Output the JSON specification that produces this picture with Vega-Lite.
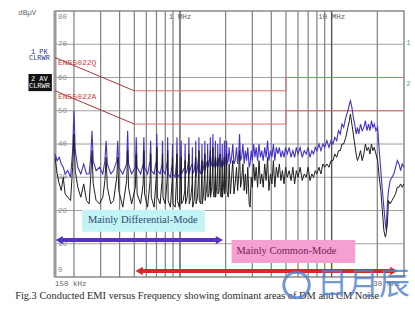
{
  "$schema": "https://vega.github.io/schema/vega-lite/v6.json",
  "width": 349,
  "height": 266,
  "autosize": "none",
  "padding": {"left": 55, "top": 11, "right": 11, "bottom": 32},
  "background": "white",
  "config": {"view": {"stroke": "#8a8a8a", "strokeWidth": 1.5}},
  "datasets": {
    "grid": [{"f":0.2},{"f":0.3},{"f":0.4},{"f":0.5},{"f":0.6},{"f":0.7},{"f":0.8},{"f":0.9},{"f":2},{"f":3},{"f":4},{"f":5},{"f":6},{"f":7},{"f":8},{"f":9},{"f":20}],
    "hgrid": [{"db":10,"t":"10"},{"db":20,"t":"20"},{"db":30,"t":"30"},{"db":40,"t":"40"},{"db":50,"t":"50"},{"db":60,"t":"60"},{"db":70,"t":"70"}],
    "lim": [
      {"lim":"Q","kind":"diag","i":1,"f":0.15,"db":66},{"lim":"Q","kind":"diag","i":2,"f":0.5,"db":56},
      {"lim":"Q","kind":"flat","i":1,"f":0.5,"db":56},{"lim":"Q","kind":"flat","i":2,"f":5,"db":56},{"lim":"Q","kind":"flat","i":3,"f":5,"db":60},{"lim":"Q","kind":"flat","i":4,"f":30,"db":60},
      {"lim":"A","kind":"diag","i":1,"f":0.15,"db":56},{"lim":"A","kind":"diag","i":2,"f":0.5,"db":46},
      {"lim":"A","kind":"flat","i":1,"f":0.5,"db":46},{"lim":"A","kind":"flat","i":2,"f":5,"db":46},{"lim":"A","kind":"flat","i":3,"f":5,"db":50},{"lim":"A","kind":"flat","i":4,"f":30,"db":50}
    ],
    "tr": [
      {"f":0.150,"pk":37,"av":36},{"f":0.155,"pk":35,"av":31},{"f":0.160,"pk":36,"av":28},{"f":0.165,"pk":34,"av":26},{"f":0.170,"pk":33,"av":30},{"f":0.175,"pk":31,"av":25},{"f":0.182,"pk":32,"av":24},{"f":0.190,"pk":30,"av":23},{"f":0.196,"pk":38,"av":33},{"f":0.200,"pk":50,"av":43},{"f":0.204,"pk":38,"av":32},{"f":0.212,"pk":33,"av":27},{"f":0.222,"pk":31,"av":24},{"f":0.232,"pk":34,"av":28},{"f":0.242,"pk":31,"av":23},{"f":0.252,"pk":31,"av":22},{"f":0.258,"pk":36,"av":30},{"f":0.263,"pk":44,"av":38},{"f":0.268,"pk":35,"av":28},{"f":0.280,"pk":32,"av":23},{"f":0.295,"pk":33,"av":22},{"f":0.310,"pk":31,"av":24},{"f":0.320,"pk":35,"av":29},{"f":0.326,"pk":41,"av":36},{"f":0.332,"pk":34,"av":27},{"f":0.350,"pk":31,"av":22},{"f":0.365,"pk":32,"av":23},{"f":0.383,"pk":35,"av":30},{"f":0.389,"pk":41,"av":36},{"f":0.395,"pk":33,"av":26},{"f":0.420,"pk":31,"av":21},{"f":0.445,"pk":34,"av":29},{"f":0.452,"pk":44,"av":38},{"f":0.458,"pk":34,"av":27},{"f":0.480,"pk":31,"av":22},{"f":0.508,"pk":33,"av":27},{"f":0.515,"pk":42,"av":37},{"f":0.522,"pk":33,"av":25},{"f":0.550,"pk":31,"av":22},{"f":0.572,"pk":34,"av":28},{"f":0.578,"pk":42,"av":38},{"f":0.584,"pk":33,"av":25},{"f":0.612,"pk":31,"av":21},{"f":0.635,"pk":35,"av":29},{"f":0.641,"pk":41,"av":37},{"f":0.647,"pk":32,"av":24},{"f":0.675,"pk":31,"av":21},{"f":0.698,"pk":35,"av":30},{"f":0.704,"pk":43,"av":39},{"f":0.710,"pk":32,"av":24},{"f":0.740,"pk":31,"av":22},{"f":0.762,"pk":34,"av":29},{"f":0.767,"pk":41,"av":37},{"f":0.773,"pk":32,"av":24},{"f":0.800,"pk":31,"av":22},{"f":0.825,"pk":35,"av":30},{"f":0.830,"pk":42,"av":38},{"f":0.836,"pk":31,"av":23},{"f":0.865,"pk":30,"av":21},{"f":0.888,"pk":34,"av":29},{"f":0.893,"pk":40,"av":36},{"f":0.899,"pk":31,"av":22},{"f":0.930,"pk":30,"av":21},{"f":0.950,"pk":35,"av":30},{"f":0.956,"pk":42,"av":37},{"f":0.962,"pk":31,"av":23},{"f":0.990,"pk":30,"av":21},
      {"f":1.019,"pk":41,"av":36},{"f":1.025,"pk":31,"av":22},{"f":1.05,"pk":32,"av":23},{"f":1.076,"pk":33,"av":26},{"f":1.082,"pk":40,"av":35},{"f":1.088,"pk":31,"av":22},{"f":1.115,"pk":32,"av":24},{"f":1.139,"pk":35,"av":29},{"f":1.145,"pk":42,"av":37},{"f":1.151,"pk":31,"av":22},{"f":1.18,"pk":33,"av":24},{"f":1.202,"pk":34,"av":28},{"f":1.208,"pk":39,"av":34},{"f":1.214,"pk":31,"av":21},{"f":1.24,"pk":32,"av":23},{"f":1.265,"pk":35,"av":30},{"f":1.271,"pk":41,"av":36},{"f":1.277,"pk":30,"av":22},{"f":1.305,"pk":33,"av":24},{"f":1.328,"pk":36,"av":31},{"f":1.334,"pk":42,"av":38},{"f":1.34,"pk":32,"av":23},{"f":1.37,"pk":31,"av":22},{"f":1.391,"pk":35,"av":30},{"f":1.397,"pk":40,"av":35},{"f":1.403,"pk":31,"av":22},{"f":1.43,"pk":33,"av":25},{"f":1.454,"pk":36,"av":31},{"f":1.46,"pk":41,"av":37},{"f":1.466,"pk":32,"av":23},{"f":1.495,"pk":34,"av":26},{"f":1.517,"pk":35,"av":30},{"f":1.523,"pk":40,"av":35},{"f":1.529,"pk":33,"av":24},{"f":1.555,"pk":34,"av":25},{"f":1.58,"pk":37,"av":32},{"f":1.586,"pk":42,"av":38},{"f":1.592,"pk":33,"av":24},{"f":1.62,"pk":34,"av":27},{"f":1.643,"pk":37,"av":33},{"f":1.649,"pk":43,"av":39},{"f":1.655,"pk":34,"av":26},{"f":1.68,"pk":33,"av":24},{"f":1.706,"pk":36,"av":31},{"f":1.712,"pk":41,"av":36},{"f":1.718,"pk":33,"av":24},{"f":1.745,"pk":34,"av":27},{"f":1.769,"pk":36,"av":32},{"f":1.775,"pk":40,"av":36},{"f":1.781,"pk":33,"av":25},{"f":1.81,"pk":35,"av":26},{"f":1.832,"pk":37,"av":33},{"f":1.838,"pk":42,"av":37},{"f":1.844,"pk":34,"av":25},{"f":1.87,"pk":33,"av":24},{"f":1.895,"pk":36,"av":31},{"f":1.90,"pk":40,"av":35},{"f":1.906,"pk":33,"av":24},{"f":1.935,"pk":34,"av":27},{"f":1.958,"pk":37,"av":32},{"f":1.963,"pk":41,"av":36},{"f":1.97,"pk":33,"av":25},{"f":2.0,"pk":35,"av":28},{"f":2.026,"pk":38,"av":33},{"f":2.032,"pk":41,"av":37},{"f":2.04,"pk":34,"av":26},{"f":2.08,"pk":35,"av":24},{"f":2.11,"pk":39,"av":34},{"f":2.15,"pk":34,"av":25},{"f":2.19,"pk":36,"av":30},{"f":2.23,"pk":40,"av":35},{"f":2.27,"pk":34,"av":25},{"f":2.31,"pk":35,"av":28},{"f":2.36,"pk":39,"av":33},{"f":2.40,"pk":34,"av":26},{"f":2.44,"pk":37,"av":31},{"f":2.47,"pk":43,"av":38},{"f":2.51,"pk":35,"av":27},{"f":2.55,"pk":36,"av":29},{"f":2.60,"pk":40,"av":34},{"f":2.65,"pk":34,"av":26},{"f":2.70,"pk":38,"av":31},{"f":2.75,"pk":35,"av":25},{"f":2.80,"pk":39,"av":33},{"f":2.86,"pk":33,"av":22},{"f":2.90,"pk":34,"av":21},{"f":2.95,"pk":38,"av":30},
      {"f":3.00,"pk":35,"av":27},{"f":3.06,"pk":40,"av":34},{"f":3.12,"pk":36,"av":29},{"f":3.18,"pk":39,"av":33},{"f":3.25,"pk":35,"av":27},{"f":3.32,"pk":40,"av":35},{"f":3.39,"pk":36,"av":28},{"f":3.46,"pk":38,"av":31},{"f":3.54,"pk":35,"av":27},{"f":3.62,"pk":39,"av":34},{"f":3.70,"pk":36,"av":29},{"f":3.78,"pk":41,"av":36},{"f":3.86,"pk":35,"av":26},{"f":3.95,"pk":38,"av":31},{"f":4.04,"pk":36,"av":28},{"f":4.13,"pk":40,"av":35},{"f":4.22,"pk":35,"av":27},{"f":4.32,"pk":39,"av":33},{"f":4.42,"pk":37,"av":30},{"f":4.52,"pk":39,"av":34},{"f":4.63,"pk":36,"av":29},{"f":4.74,"pk":38,"av":32},{"f":4.85,"pk":36,"av":28},{"f":4.97,"pk":39,"av":33},{"f":5.1,"pk":37,"av":30},{"f":5.25,"pk":39,"av":32},{"f":5.4,"pk":36,"av":29},{"f":5.55,"pk":38,"av":33},{"f":5.7,"pk":36,"av":28},{"f":5.85,"pk":39,"av":32},{"f":6.0,"pk":37,"av":30},{"f":6.2,"pk":39,"av":33},{"f":6.4,"pk":36,"av":29},{"f":6.6,"pk":38,"av":31},{"f":6.8,"pk":37,"av":30},{"f":7.0,"pk":39,"av":33},{"f":7.2,"pk":36,"av":29},{"f":7.4,"pk":38,"av":31},{"f":7.6,"pk":37,"av":30},{"f":7.8,"pk":39,"av":32},{"f":8.0,"pk":38,"av":31},{"f":8.25,"pk":40,"av":33},{"f":8.5,"pk":38,"av":31},{"f":8.75,"pk":40,"av":34},{"f":9.0,"pk":39,"av":33},{"f":9.3,"pk":41,"av":34},{"f":9.6,"pk":39,"av":33},{"f":9.9,"pk":41,"av":35},{"f":10.2,"pk":40,"av":35},{"f":10.5,"pk":42,"av":37},{"f":10.8,"pk":41,"av":36},{"f":11.1,"pk":44,"av":38},{"f":11.4,"pk":43,"av":38},{"f":11.7,"pk":46,"av":40},{"f":12.0,"pk":45,"av":40},{"f":12.4,"pk":48,"av":42},{"f":12.8,"pk":50,"av":45},{"f":13.1,"pk":52,"av":47},{"f":13.3,"pk":53,"av":49},{"f":13.6,"pk":51,"av":46},{"f":13.9,"pk":48,"av":43},{"f":14.2,"pk":46,"av":40},{"f":14.5,"pk":43,"av":37},{"f":14.8,"pk":45,"av":35},{"f":15.1,"pk":43,"av":36},{"f":15.5,"pk":46,"av":38},{"f":15.9,"pk":44,"av":35},{"f":16.3,"pk":45,"av":37},{"f":16.7,"pk":47,"av":40},{"f":17.1,"pk":44,"av":38},{"f":17.5,"pk":46,"av":39},{"f":17.9,"pk":44,"av":37},{"f":18.3,"pk":47,"av":40},{"f":18.7,"pk":45,"av":38},{"f":19.1,"pk":46,"av":39},{"f":19.6,"pk":44,"av":37},{"f":20.1,"pk":45,"av":35},{"f":20.6,"pk":38,"av":30},{"f":21.1,"pk":32,"av":26},{"f":21.6,"pk":26,"av":20},{"f":22.1,"pk":21,"av":14},{"f":22.6,"pk":16,"av":12},{"f":22.9,"pk":14,"av":13},{"f":23.3,"pk":22,"av":16},{"f":23.7,"pk":26,"av":23},{"f":24.3,"pk":29,"av":22},{"f":25.0,"pk":30,"av":23},{"f":25.7,"pk":31,"av":24},{"f":26.4,"pk":33,"av":25},{"f":27.1,"pk":35,"av":27},{"f":27.8,"pk":34,"av":27},{"f":28.5,"pk":32,"av":28},{"f":29.2,"pk":34,"av":27},{"f":30.0,"pk":33,"av":28}
    ]
  },
  "layer": [
    {
      "data": {"name": "hgrid"},
      "mark": {"type": "rule", "color": "#a0a0a0", "strokeWidth": 1},
      "encoding": {
        "y": {"field": "db", "type": "quantitative", "scale": {"domain": [0, 80], "nice": false}, "axis": null}
      }
    },
    {
      "data": {"name": "grid"},
      "mark": {"type": "rule", "color": "#7f7f7f", "strokeWidth": 1.2},
      "encoding": {
        "x": {"field": "f", "type": "quantitative", "scale": {"type": "log", "domain": [0.15, 30]}, "axis": null}
      }
    },
    {
      "data": {"values": [{"f": 1}, {"f": 10}]},
      "mark": {"type": "rule", "color": "#555555", "strokeWidth": 1.4},
      "encoding": {
        "x": {"field": "f", "type": "quantitative", "scale": {"type": "log", "domain": [0.15, 30]}, "axis": null}
      }
    },
    {
      "data": {"values": [{"f": 0.15}]},
      "mark": {"type": "rule", "color": "#9a9a9a", "strokeWidth": 3},
      "encoding": {
        "x": {"field": "f", "type": "quantitative", "scale": {"type": "log", "domain": [0.15, 30]}, "axis": null}
      }
    },
    {
      "data": {"name": "hgrid"},
      "mark": {"type": "text", "font": "Liberation Mono", "fontSize": 7.5, "color": "#8a8a8a", "align": "left", "baseline": "middle", "dx": 3},
      "encoding": {
        "x": {"datum": 0.15, "type": "quantitative", "scale": {"type": "log", "domain": [0.15, 30]}, "axis": null},
        "y": {"field": "db", "type": "quantitative", "scale": {"domain": [0, 80], "nice": false}, "axis": null},
        "text": {"field": "t"}
      }
    },
    {
      "data": {"values": [{"f": 0.15, "db": 80, "t": "80"}]},
      "mark": {"type": "text", "font": "Liberation Mono", "fontSize": 7.5, "color": "#8a8a8a", "align": "left", "baseline": "top", "dx": 3, "dy": 2},
      "encoding": {
        "x": {"field": "f", "type": "quantitative", "scale": {"type": "log", "domain": [0.15, 30]}, "axis": null},
        "y": {"field": "db", "type": "quantitative", "scale": {"domain": [0, 80], "nice": false}, "axis": null},
        "text": {"field": "t"}
      }
    },
    {
      "data": {"values": [{"f": 0.15, "db": 0, "t": "0"}]},
      "mark": {"type": "text", "font": "Liberation Mono", "fontSize": 7.5, "color": "#8a8a8a", "align": "left", "baseline": "bottom", "dx": 3, "dy": -3},
      "encoding": {
        "x": {"field": "f", "type": "quantitative", "scale": {"type": "log", "domain": [0.15, 30]}, "axis": null},
        "y": {"field": "db", "type": "quantitative", "scale": {"domain": [0, 80], "nice": false}, "axis": null},
        "text": {"field": "t"}
      }
    },
    {
      "data": {"name": "lim"},
      "transform": [{"filter": "datum.kind === 'flat'"}],
      "mark": {"type": "line", "color": "#e06a6a", "strokeWidth": 1},
      "encoding": {
        "x": {"field": "f", "type": "quantitative", "scale": {"type": "log", "domain": [0.15, 30]}, "axis": null},
        "y": {"field": "db", "type": "quantitative", "scale": {"domain": [0, 80], "nice": false}, "axis": null},
        "detail": {"field": "lim"},
        "order": {"field": "i"}
      }
    },
    {
      "data": {"name": "lim"},
      "transform": [{"filter": "datum.kind === 'diag'"}],
      "mark": {"type": "line", "color": "#a83636", "strokeWidth": 1},
      "encoding": {
        "x": {"field": "f", "type": "quantitative", "scale": {"type": "log", "domain": [0.15, 30]}, "axis": null},
        "y": {"field": "db", "type": "quantitative", "scale": {"domain": [0, 80], "nice": false}, "axis": null},
        "detail": {"field": "lim"},
        "order": {"field": "i"}
      }
    },
    {
      "data": {"name": "tr"},
      "mark": {"type": "line", "color": "#4332c8", "strokeWidth": 1.1},
      "encoding": {
        "x": {"field": "f", "type": "quantitative", "scale": {"type": "log", "domain": [0.15, 30]}, "axis": null},
        "y": {"field": "pk", "type": "quantitative", "scale": {"domain": [0, 80], "nice": false}, "axis": null}
      }
    },
    {
      "data": {"name": "tr"},
      "mark": {"type": "line", "color": "#1e1e1e", "strokeWidth": 1},
      "encoding": {
        "x": {"field": "f", "type": "quantitative", "scale": {"type": "log", "domain": [0.15, 30]}, "axis": null},
        "y": {"field": "av", "type": "quantitative", "scale": {"domain": [0, 80], "nice": false}, "axis": null}
      }
    },
    {
      "data": {"values": [{"f1": 0.226, "f2": 1.46, "d1": 13.6, "d2": 20.2}]},
      "mark": {"type": "rect", "color": "#c2f3f5"},
      "encoding": {
        "x": {"field": "f1", "type": "quantitative", "scale": {"type": "log", "domain": [0.15, 30]}, "axis": null},
        "x2": {"field": "f2"},
        "y": {"field": "d1", "type": "quantitative", "scale": {"domain": [0, 80], "nice": false}, "axis": null},
        "y2": {"field": "d2"}
      }
    },
    {
      "data": {"values": [{"f1": 2.19, "f2": 14.3, "d1": 4.2, "d2": 11.1}]},
      "mark": {"type": "rect", "color": "#f59fd3"},
      "encoding": {
        "x": {"field": "f1", "type": "quantitative", "scale": {"type": "log", "domain": [0.15, 30]}, "axis": null},
        "x2": {"field": "f2"},
        "y": {"field": "d1", "type": "quantitative", "scale": {"domain": [0, 80], "nice": false}, "axis": null},
        "y2": {"field": "d2"}
      }
    },
    {
      "data": {"values": [{"f1": 0.1615, "f2": 1.80, "db": 11.1}]},
      "mark": {"type": "rule", "color": "#5535c0", "strokeWidth": 4},
      "encoding": {
        "x": {"field": "f1", "type": "quantitative", "scale": {"type": "log", "domain": [0.15, 30]}, "axis": null},
        "x2": {"field": "f2"},
        "y": {"field": "db", "type": "quantitative", "scale": {"domain": [0, 80], "nice": false}, "axis": null}
      }
    },
    {
      "data": {"values": [{"f": 0.1600, "db": 11.1, "end": "L"}, {"f": 1.82, "db": 11.1, "end": "R"}]},
      "mark": {"type": "point", "filled": true, "opacity": 1, "color": "#5535c0", "size": 70},
      "encoding": {
        "x": {"field": "f", "type": "quantitative", "scale": {"type": "log", "domain": [0.15, 30]}, "axis": null},
        "y": {"field": "db", "type": "quantitative", "scale": {"domain": [0, 80], "nice": false}, "axis": null},
        "shape": {"field": "end", "type": "nominal", "scale": {"domain": ["L", "R"], "range": ["triangle-left", "triangle-right"]}, "legend": null}
      }
    },
    {
      "data": {"values": [{"f1": 0.543, "f2": 25.4, "db": 1.8}]},
      "mark": {"type": "rule", "color": "#d8282c", "strokeWidth": 4},
      "encoding": {
        "x": {"field": "f1", "type": "quantitative", "scale": {"type": "log", "domain": [0.15, 30]}, "axis": null},
        "x2": {"field": "f2"},
        "y": {"field": "db", "type": "quantitative", "scale": {"domain": [0, 80], "nice": false}, "axis": null}
      }
    },
    {
      "data": {"values": [{"f": 0.538, "db": 1.8, "end": "L"}, {"f": 25.7, "db": 1.8, "end": "R"}]},
      "mark": {"type": "point", "filled": true, "opacity": 1, "color": "#d8282c", "size": 70},
      "encoding": {
        "x": {"field": "f", "type": "quantitative", "scale": {"type": "log", "domain": [0.15, 30]}, "axis": null},
        "y": {"field": "db", "type": "quantitative", "scale": {"domain": [0, 80], "nice": false}, "axis": null},
        "shape": {"field": "end", "type": "nominal", "scale": {"domain": ["L", "R"], "range": ["triangle-left", "triangle-right"]}, "legend": null}
      }
    },
    {
      "data": {"values": [{"f": 0.569, "db": 17.1, "t": "Mainly Differential-Mode"}]},
      "mark": {"type": "text", "font": "Liberation Serif", "fontSize": 10.5, "color": "#2c4d70", "align": "center", "baseline": "middle"},
      "encoding": {
        "x": {"field": "f", "type": "quantitative", "scale": {"type": "log", "domain": [0.15, 30]}, "axis": null},
        "y": {"field": "db", "type": "quantitative", "scale": {"domain": [0, 80], "nice": false}, "axis": null},
        "text": {"field": "t"}
      }
    },
    {
      "data": {"values": [{"f": 5.04, "db": 7.8, "t": "Mainly Common-Mode"}]},
      "mark": {"type": "text", "font": "Liberation Serif", "fontSize": 10.5, "color": "#7a2455", "align": "center", "baseline": "middle"},
      "encoding": {
        "x": {"field": "f", "type": "quantitative", "scale": {"type": "log", "domain": [0.15, 30]}, "axis": null},
        "y": {"field": "db", "type": "quantitative", "scale": {"domain": [0, 80], "nice": false}, "axis": null},
        "text": {"field": "t"}
      }
    },
    {
      "data": {"values": [{"f": 0.157, "db": 64.4, "t": "EN55022Q"}, {"f": 0.157, "db": 54.1, "t": "EN55022A"}]},
      "mark": {"type": "text", "font": "Liberation Mono", "fontSize": 8, "color": "#c84444", "align": "left", "baseline": "middle"},
      "encoding": {
        "x": {"field": "f", "type": "quantitative", "scale": {"type": "log", "domain": [0.15, 30]}, "axis": null},
        "y": {"field": "db", "type": "quantitative", "scale": {"domain": [0, 80], "nice": false}, "axis": null},
        "text": {"field": "t"}
      }
    },
    {
      "data": {"values": [{"f": 1.0, "db": 78.2, "t": "1 MHz"}, {"f": 10.0, "db": 78.2, "t": "10 MHz"}]},
      "mark": {"type": "text", "font": "Liberation Mono", "fontSize": 7.5, "color": "#666666", "align": "center", "baseline": "middle"},
      "encoding": {
        "x": {"field": "f", "type": "quantitative", "scale": {"type": "log", "domain": [0.15, 30]}, "axis": null},
        "y": {"field": "db", "type": "quantitative", "scale": {"domain": [0, 80], "nice": false}, "axis": null},
        "text": {"field": "t"}
      }
    },
    {
      "data": {"values": [{"f": 0.15, "db": -2.1, "t": "150 kHz"}, {"f": 0.0857, "db": 79.4, "t": "dBµV"}]},
      "mark": {"type": "text", "font": "Liberation Mono", "fontSize": 7.5, "color": "#666666", "align": "left", "baseline": "middle"},
      "encoding": {
        "x": {"field": "f", "type": "quantitative", "scale": {"type": "log", "domain": [0.15, 30]}, "axis": null},
        "y": {"field": "db", "type": "quantitative", "scale": {"domain": [0, 80], "nice": false}, "axis": null},
        "text": {"field": "t"}
      }
    },
    {
      "data": {"values": [{"f": 28.4, "db": -2.1, "t": "30 MHz"}]},
      "mark": {"type": "text", "font": "Liberation Mono", "fontSize": 7.5, "color": "#666666", "align": "right", "baseline": "middle"},
      "encoding": {
        "x": {"field": "f", "type": "quantitative", "scale": {"type": "log", "domain": [0.15, 30]}, "axis": null},
        "y": {"field": "db", "type": "quantitative", "scale": {"domain": [0, 80], "nice": false}, "axis": null},
        "text": {"field": "t"}
      }
    },
    {
      "data": {"values": [{"f": 0.104, "db": 67.8, "t": "1 PK"}, {"f": 0.101, "db": 65.8, "t": "CLRWR"}]},
      "mark": {"type": "text", "font": "Liberation Mono", "fontSize": 7, "color": "#2f3488", "align": "left", "baseline": "middle"},
      "encoding": {
        "x": {"field": "f", "type": "quantitative", "scale": {"type": "log", "domain": [0.15, 30]}, "axis": null},
        "y": {"field": "db", "type": "quantitative", "scale": {"domain": [0, 80], "nice": false}, "axis": null},
        "text": {"field": "t"}
      }
    },
    {
      "data": {"values": [{"f1": 0.1003, "f2": 0.143, "d1": 55.9, "d2": 61.05}]},
      "mark": {"type": "rect", "color": "#111111"},
      "encoding": {
        "x": {"field": "f1", "type": "quantitative", "scale": {"type": "log", "domain": [0.15, 30]}, "axis": null},
        "x2": {"field": "f2"},
        "y": {"field": "d1", "type": "quantitative", "scale": {"domain": [0, 80], "nice": false}, "axis": null},
        "y2": {"field": "d2"}
      }
    },
    {
      "data": {"values": [{"f": 0.104, "db": 59.6, "t": "2 AV"}, {"f": 0.101, "db": 57.3, "t": "CLRWR"}]},
      "mark": {"type": "text", "font": "Liberation Mono", "fontSize": 7, "color": "#ffffff", "align": "left", "baseline": "middle"},
      "encoding": {
        "x": {"field": "f", "type": "quantitative", "scale": {"type": "log", "domain": [0.15, 30]}, "axis": null},
        "y": {"field": "db", "type": "quantitative", "scale": {"domain": [0, 80], "nice": false}, "axis": null},
        "text": {"field": "t"}
      }
    },
    {
      "data": {"values": [{"f": 31.1, "db": 70.4, "t": "1"}, {"f": 31.1, "db": 58.0, "t": "2"}]},
      "mark": {"type": "text", "font": "Liberation Mono", "fontSize": 7, "color": "#40a8a0", "align": "left", "baseline": "middle"},
      "encoding": {
        "x": {"field": "f", "type": "quantitative", "scale": {"type": "log", "domain": [0.15, 30]}, "axis": null},
        "y": {"field": "db", "type": "quantitative", "scale": {"domain": [0, 80], "nice": false}, "axis": null},
        "text": {"field": "t"}
      }
    },
    {
      "data": {"values": [{"f": 0.0819, "db": -5.7, "t": "Fig.3 Conducted EMI versus Frequency showing dominant areas of DM and CM Noise"}]},
      "mark": {"type": "text", "font": "Liberation Serif", "fontSize": 10.4, "color": "#2a2a2a", "align": "left", "baseline": "middle"},
      "encoding": {
        "x": {"field": "f", "type": "quantitative", "scale": {"type": "log", "domain": [0.15, 30]}, "axis": null},
        "y": {"field": "db", "type": "quantitative", "scale": {"domain": [0, 80], "nice": false}, "axis": null},
        "text": {"field": "t"}
      }
    },
    {
      "data": {"values": [{"f": 5.87, "db": -2.4}]},
      "mark": {"type": "point", "shape": "circle", "filled": false, "color": "#4f7fcf", "strokeWidth": 3, "size": 650, "opacity": 0.8},
      "encoding": {
        "x": {"field": "f", "type": "quantitative", "scale": {"type": "log", "domain": [0.15, 30]}, "axis": null},
        "y": {"field": "db", "type": "quantitative", "scale": {"domain": [0, 80], "nice": false}, "axis": null}
      }
    },
    {
      "data": {"values": [{"f": 16.2, "db": -2.4, "t": "日月辰"}]},
      "mark": {"type": "text", "font": "Noto Sans CJK SC", "fontSize": 31, "color": "#4f7fcf", "opacity": 0.8, "align": "center", "baseline": "middle"},
      "encoding": {
        "x": {"field": "f", "type": "quantitative", "scale": {"type": "log", "domain": [0.15, 30]}, "axis": null},
        "y": {"field": "db", "type": "quantitative", "scale": {"domain": [0, 80], "nice": false}, "axis": null},
        "text": {"field": "t"}
      }
    }
  ]
}
